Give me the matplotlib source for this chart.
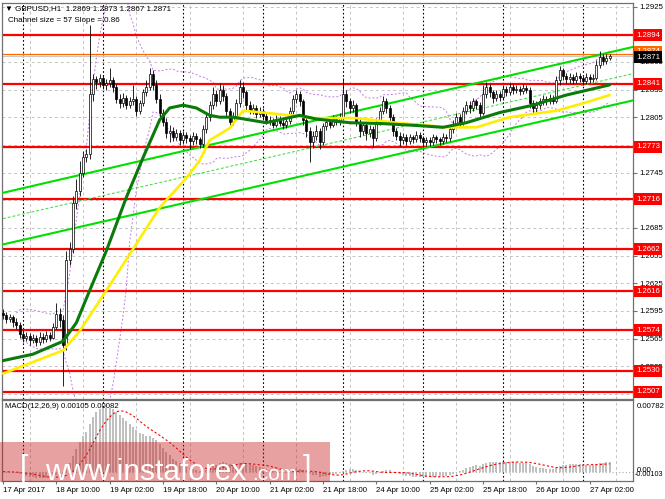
import numpy as np
import pandas as pd
import matplotlib
matplotlib.use("Agg")
import matplotlib.pyplot as plt
from matplotlib.patches import Rectangle

plt.rcParams['font.family'] = ['Liberation Sans', 'DejaVu Sans']

# GBPUSD H1, first bar 17 Apr 18:00, last bar 27 Apr 08:00
first_open = 1.2593
closes = [
    1.2590, 1.2586, 1.2588, 1.2583, 1.2580, 1.2570, 1.2566, 1.2568, 1.2563, 1.2566,
    1.2561, 1.2567, 1.2564, 1.2569, 1.2566, 1.2578, 1.2592, 1.2585, 1.2558, 1.2650,
    1.2662, 1.2712, 1.2725, 1.2745, 1.2762, 1.2765, 1.2830, 1.2846, 1.2843, 1.2848,
    1.2840, 1.2842, 1.2845, 1.2838, 1.2825, 1.2820, 1.2826, 1.2818, 1.2822, 1.2825,
    1.2812, 1.2820, 1.2832, 1.2838, 1.2852, 1.2840, 1.2825, 1.2810, 1.2800, 1.2788,
    1.2790, 1.2784, 1.2788, 1.2780, 1.2786, 1.2782, 1.2779, 1.2785, 1.2781, 1.2776,
    1.2792, 1.2805, 1.2818, 1.2830, 1.2822, 1.2835, 1.2828, 1.2812, 1.2800, 1.2806,
    1.2820, 1.2838, 1.2832, 1.2818, 1.2812, 1.2815, 1.2808, 1.2812, 1.2806, 1.2802,
    1.2800, 1.2797, 1.2803, 1.2799, 1.2796, 1.2801, 1.2812, 1.2825, 1.2830, 1.2822,
    1.2802, 1.2790, 1.2778, 1.2785, 1.2790, 1.2778, 1.2795, 1.2800, 1.2797, 1.2803,
    1.2800, 1.2805, 1.2830, 1.2822, 1.2815, 1.2818, 1.2800, 1.2790, 1.2796, 1.2788,
    1.2792, 1.2782, 1.2800, 1.2812, 1.2822, 1.2815, 1.2805, 1.2790, 1.2785, 1.2780,
    1.2784, 1.2779, 1.2783, 1.2781, 1.2786, 1.2782, 1.2778, 1.2780, 1.2778, 1.2783,
    1.2781, 1.2779, 1.2784, 1.2782, 1.2792, 1.2798, 1.2805, 1.2800, 1.2812, 1.2818,
    1.2815, 1.2822, 1.2818, 1.2810, 1.2830, 1.2838, 1.2832, 1.2826, 1.2830, 1.2827,
    1.2836, 1.2832, 1.2838, 1.2834, 1.2836, 1.2833, 1.2837, 1.2835, 1.2820, 1.2815,
    1.2818, 1.2822, 1.2825, 1.2822, 1.2826, 1.2823, 1.2845, 1.2856, 1.2850, 1.2846,
    1.2849, 1.2845, 1.2850, 1.2847, 1.2844, 1.2849, 1.2846, 1.2848, 1.2862, 1.2870,
    1.2866, 1.2869, 1.2871,
]
highs = [
    1.2597, 1.2594, 1.2592, 1.2591, 1.2587, 1.2583, 1.2574, 1.2572, 1.2571, 1.2570,
    1.2569, 1.2572, 1.2571, 1.2573, 1.2572, 1.2582, 1.2603, 1.2598, 1.2590, 1.2660,
    1.2670, 1.2720, 1.2738, 1.2758, 1.2768, 1.2770, 1.2905, 1.2852, 1.2850, 1.2852,
    1.2851, 1.2846, 1.2858, 1.2849, 1.2841, 1.2830, 1.2831, 1.2829, 1.2827, 1.2840,
    1.2828, 1.2824, 1.2836, 1.2845, 1.2858, 1.2856, 1.2845, 1.2830, 1.2814, 1.2804,
    1.2796, 1.2794, 1.2792, 1.2791, 1.2790, 1.2789, 1.2786, 1.2789, 1.2788, 1.2784,
    1.2796, 1.2810, 1.2823, 1.2838, 1.2834, 1.2842, 1.2840, 1.2831, 1.2815, 1.2811,
    1.2825, 1.2845, 1.2843, 1.2835, 1.2822, 1.2819, 1.2818, 1.2816, 1.2815, 1.2810,
    1.2806, 1.2804, 1.2807, 1.2806, 1.2803, 1.2805, 1.2816, 1.2829, 1.2834, 1.2833,
    1.2825, 1.2806, 1.2794, 1.2790, 1.2796, 1.2793, 1.2799, 1.2804, 1.2803, 1.2807,
    1.2806, 1.2810, 1.2848, 1.2834, 1.2826, 1.2824, 1.2820, 1.2804, 1.2800, 1.2799,
    1.2797, 1.2795, 1.2804, 1.2816, 1.2828, 1.2826, 1.2818, 1.2808, 1.2793, 1.2789,
    1.2788, 1.2787, 1.2787, 1.2786, 1.2790, 1.2789, 1.2785, 1.2784, 1.2783, 1.2787,
    1.2786, 1.2784, 1.2788, 1.2787, 1.2796, 1.2802, 1.2810, 1.2808, 1.2816, 1.2823,
    1.2822, 1.2826, 1.2825, 1.2821, 1.2840, 1.2843, 1.2841, 1.2835, 1.2834, 1.2833,
    1.2840, 1.2839, 1.2842, 1.2841, 1.2840, 1.2839, 1.2841, 1.2840, 1.2838, 1.2824,
    1.2822, 1.2826, 1.2829, 1.2828, 1.2830, 1.2829, 1.2850, 1.2860, 1.2858, 1.2853,
    1.2853, 1.2852, 1.2854, 1.2853, 1.2850, 1.2853, 1.2852, 1.2852, 1.2867, 1.2877,
    1.2874, 1.2873, 1.2873,
]
lows = [
    1.2586, 1.2582, 1.2583, 1.2578, 1.2575, 1.2566, 1.2561, 1.2562, 1.2558, 1.2560,
    1.2557, 1.2558, 1.2560, 1.2561, 1.2562, 1.2564, 1.2575, 1.2578, 1.2514, 1.2552,
    1.2645, 1.2658, 1.2705, 1.2720, 1.2740, 1.2756, 1.2760, 1.2822, 1.2836, 1.2838,
    1.2836, 1.2835, 1.2838, 1.2832, 1.2820, 1.2815, 1.2816, 1.2814, 1.2815, 1.2818,
    1.2806, 1.2808, 1.2817, 1.2828, 1.2835, 1.2834, 1.2820, 1.2805, 1.2795, 1.2782,
    1.2778, 1.2779, 1.2780, 1.2775, 1.2776, 1.2777, 1.2771, 1.2775, 1.2776, 1.2772,
    1.2773, 1.2788, 1.2801, 1.2814, 1.2817, 1.2819, 1.2822, 1.2806, 1.2794, 1.2796,
    1.2802, 1.2816, 1.2826, 1.2812, 1.2808, 1.2808, 1.2804, 1.2805, 1.2802, 1.2798,
    1.2796, 1.2793, 1.2794, 1.2795, 1.2792, 1.2793, 1.2798, 1.2808, 1.2820, 1.2817,
    1.2796, 1.2783, 1.2756, 1.2772, 1.2780, 1.2770, 1.2775, 1.2791, 1.2793, 1.2794,
    1.2796, 1.2797, 1.2802, 1.2816, 1.2810, 1.2811, 1.2795, 1.2784, 1.2786, 1.2780,
    1.2784, 1.2773, 1.2779, 1.2797, 1.2808, 1.2810, 1.2800, 1.2785, 1.2780, 1.2774,
    1.2776, 1.2775, 1.2776, 1.2777, 1.2778, 1.2778, 1.2773, 1.2774, 1.2774, 1.2775,
    1.2777, 1.2775, 1.2776, 1.2778, 1.2779, 1.2788, 1.2795, 1.2795, 1.2797, 1.2808,
    1.2810, 1.2812, 1.2814, 1.2805, 1.2807, 1.2826, 1.2827, 1.2820, 1.2822, 1.2822,
    1.2824, 1.2828, 1.2829, 1.2830, 1.2831, 1.2829, 1.2830, 1.2831, 1.2815, 1.2808,
    1.2811, 1.2814, 1.2818, 1.2818, 1.2819, 1.2819, 1.2820, 1.2840, 1.2845, 1.2842,
    1.2842, 1.2841, 1.2842, 1.2843, 1.2840, 1.2841, 1.2842, 1.2843, 1.2845, 1.2858,
    1.2862, 1.2863, 1.2867,
]

# horizontal levels and current prices
levels = [1.2894, 1.2841, 1.2773, 1.2716, 1.2662, 1.2616, 1.2574, 1.2530, 1.2507]
ask_price = 1.2874
bid_price = 1.2871

# moving averages at a few bars
green_ma_bars = [0, 9, 18, 22, 26, 31, 37, 42, 47, 50, 54, 58, 62, 65, 69, 79, 89, 94,
                 104, 114, 124, 132, 139, 149, 159, 169, 182]
green_ma = [1.2541, 1.2548, 1.2562, 1.2582, 1.2617, 1.2660, 1.2718, 1.2761, 1.2802,
            1.2815, 1.2818, 1.2815, 1.2807, 1.2805, 1.2805, 1.2799, 1.2807, 1.2803,
            1.2799, 1.2798, 1.2796, 1.2794, 1.2799, 1.2810, 1.2818, 1.2829, 1.2840]
yellow_ma_bars = [0, 18, 23, 31, 39, 47, 55, 59, 62, 68, 72, 78, 86, 93, 106, 118, 127,
                  134, 142, 152, 166, 174, 182]
yellow_ma = [1.2527, 1.2552, 1.2573, 1.2617, 1.2662, 1.2707, 1.2739, 1.2758, 1.2780,
             1.2793, 1.2812, 1.2810, 1.2807, 1.2804, 1.2804, 1.2799, 1.2796, 1.2794,
             1.2794, 1.2805, 1.2812, 1.2820, 1.2829]

# regression channel
channel_bars = [0, 190]
channel_upper = [1.2723, 1.2882]
channel_lower = [1.2667, 1.2824]

price_ticks = [1.2925, 1.2895, 1.2865, 1.2835, 1.2805, 1.2775, 1.2745, 1.2715, 1.2685,
               1.2655, 1.2625, 1.2595, 1.2565, 1.2535, 1.2505]
# these scale labels sit fully under a level label on the chart
hidden_ticks = [1.2895, 1.2775, 1.2715, 1.2505]
time_label_bars = [0, 16, 32, 48, 64, 80, 96, 112, 128, 144, 160, 176]
time_labels = ['17 Apr 2017', '18 Apr 10:00', '19 Apr 02:00', '19 Apr 18:00',
               '20 Apr 10:00', '21 Apr 02:00', '21 Apr 18:00', '24 Apr 10:00',
               '25 Apr 02:00', '25 Apr 18:00', '26 Apr 10:00', '27 Apr 02:00']
day_start_bars = [6, 30, 54, 78, 102, 126, 150, 174]
macd_top, macd_bottom = 0.00782, -0.00103

# ---------------------------------------------------------------
W, H = 665, 499
fig = plt.figure(figsize=(W / 100, H / 100), dpi=100)
fig.patch.set_facecolor('white')


def box(x0, y0, x1, y1):
    return [x0 / W, 1 - y1 / H, (x1 - x0) / W, (y1 - y0) / H]


ax = fig.add_axes(box(2, 3, 633, 399))
ax2 = fig.add_axes(box(2, 400, 633, 481), sharex=ax)

n = len(closes)
x = np.arange(n)
c = np.array(closes)
o = np.array([first_open] + closes[:-1])
hi = np.array(highs)
lo = np.array(lows)

grid_kw = dict(color='#c4c4c4', lw=0.7, ls=(0, (3, 3)))
for a in (ax, ax2):
    a.set_xticks(np.arange(0, 190, 8), minor=True)
    a.grid(which='minor', axis='x', **grid_kw)
    for d in day_start_bars:
        a.axvline(d, color='black', lw=0.8, ls=(0, (1.5, 2)), zorder=1)
    for s in a.spines.values():
        s.set_color('#707070')
        s.set_linewidth(0.9)
ax.set_xlim(-0.3, 189.0)

# main panel
ax.set_ylim(1.24994, 1.29288)
ax.set_yticks(price_ticks)
ax.set_yticklabels(['' if p in hidden_ticks else '%.4f' % p for p in price_ticks])
ax.yaxis.tick_right()
ax.tick_params(axis='y', length=3, pad=1.5, labelsize=5.6, color='#707070')
ax.tick_params(axis='x', which='both', bottom=False, labelbottom=False)
ax.grid(axis='y', **grid_kw)

# bollinger bands from closes
s = pd.Series(closes)
mid = s.rolling(20, min_periods=5).mean()
sd = s.rolling(20, min_periods=5).std(ddof=0)
ax.plot(x, mid + 2 * sd, color='#c47ae6', lw=0.7, ls=(0, (2, 2)), zorder=2)
ax.plot(x, mid - 2 * sd, color='#c47ae6', lw=0.7, ls=(0, (2, 2)), zorder=2)

for lev in levels:
    ax.axhline(lev, color='#ff0000', lw=1.6, zorder=2)
ax.axhline(bid_price, color='#c8c8c8', lw=0.9, zorder=2)
ax.axhline(ask_price, color='#ff6a00', lw=0.9, zorder=2)

# channel
ax.plot(channel_bars, channel_upper, color='#00e000', lw=1.5, zorder=3)
ax.plot(channel_bars, channel_lower, color='#00e000', lw=1.5, zorder=3)
ax.plot(channel_bars, [(u + l) / 2 for u, l in zip(channel_upper, channel_lower)],
        color='#33dd33', lw=0.7, ls=(0, (3, 2)), zorder=3)

# candles
ax.vlines(x, lo, hi, color='black', lw=0.6, zorder=4)
up = c >= o
body = np.maximum(np.abs(c - o), 0.00004)
ax.bar(x, body, bottom=np.minimum(o, c), width=0.62,
       color=np.where(up, 'white', 'black'), edgecolor='black', lw=0.5, zorder=4)

ax.plot(yellow_ma_bars, yellow_ma, color='#ffee00', lw=1.9, zorder=5,
        solid_capstyle='round')
ax.plot(green_ma_bars, green_ma, color='#0b7a0b', lw=2.2, zorder=5,
        solid_capstyle='round')

# price labels on the right
lab_kw = dict(xycoords=('axes fraction', 'data'), xytext=(2.2, 0),
              textcoords='offset points', va='center', ha='left', fontsize=5.6,
              color='white', annotation_clip=False)
for lev in levels:
    ax.annotate('%.4f' % lev, xy=(1, lev), zorder=10,
                bbox=dict(boxstyle='square,pad=0.3', fc='#ff0000', ec='none'), **lab_kw)
ax.annotate('%.4f' % ask_price, xy=(1, ask_price + 0.0002), zorder=10,
            bbox=dict(boxstyle='square,pad=0.3', fc='#ff6a00', ec='none'), **lab_kw)
ax.annotate('%.4f' % bid_price, xy=(1, bid_price - 0.0001), zorder=11,
            bbox=dict(boxstyle='square,pad=0.3', fc='black', ec='none'), **lab_kw)

# MACD panel
macd = s.ewm(span=12, adjust=False).mean() - s.ewm(span=26, adjust=False).mean()
signal = macd.rolling(9, min_periods=1).mean()
ax2.bar(x, macd, width=0.62, color='#c0c0c0', zorder=2)
ax2.plot(x, signal, color='#ff0000', lw=0.8, ls=(0, (2, 2)), zorder=3)
ax2.axhline(0, color='#b0b0b0', lw=0.8, ls=(0, (1, 2)), zorder=1)
ax2.set_ylim(macd_bottom, macd_top)
ax2.set_yticks([])
ax2.set_xticks(time_label_bars)
ax2.set_xticklabels(time_labels, ha='left', fontsize=5.6)
ax2.tick_params(axis='x', which='major', length=2.5, pad=1.5, color='#707070')
ax2.tick_params(axis='x', which='minor', length=0)

ax2.annotate('%.5f' % macd_top, xy=(1, 1), xycoords='axes fraction', xytext=(3, -2),
             textcoords='offset points', va='top', ha='left', fontsize=5.6,
             annotation_clip=False)
ax2.annotate('0.00', xy=(1, 0), xycoords=('axes fraction', 'data'), xytext=(3, 1),
             textcoords='offset points', va='center', ha='left', fontsize=5.6,
             annotation_clip=False)
ax2.annotate('%.5f' % macd_bottom, xy=(1, 0), xycoords='axes fraction', xytext=(1.5, 5),
             textcoords='offset points', va='center', ha='left', fontsize=5.2,
             annotation_clip=False)

# header texts
fig.text(5 / W, 1 - 9 / H, '\u25bc GBPUSD,H1  1.2869 1.2873 1.2867 1.2871',
         fontsize=5.8, va='center', ha='left')
fig.text(8 / W, 1 - 20 / H, 'Channel size = 57 Slope = 0.86',
         fontsize=5.8, va='center', ha='left')
fig.text(5 / W, 1 - 407 / H, 'MACD(12,26,9) 0.00105 0.00082',
         fontsize=5.6, va='center', ha='left')

# watermark band
fig.add_artist(Rectangle((0, 1 - 482 / H), 330 / W, 40 / H, transform=fig.transFigure,
                         fc=(0.78, 0.12, 0.12), alpha=0.42, ec='none', zorder=5))
fig.text(20 / W, 1 - 477 / H, '[', fontsize=22, color='white', va='baseline', zorder=6)
fig.text(45 / W, 1 - 480 / H, 'www.instaforex', fontsize=21.5, color='white',
         va='baseline', zorder=6)
fig.text(252 / W, 1 - 480 / H, '.com', fontsize=15, color='white', va='baseline', zorder=6)
fig.text(303 / W, 1 - 477 / H, ']', fontsize=22, color='white', va='baseline', zorder=6)

fig.savefig('out.png', dpi=100)
